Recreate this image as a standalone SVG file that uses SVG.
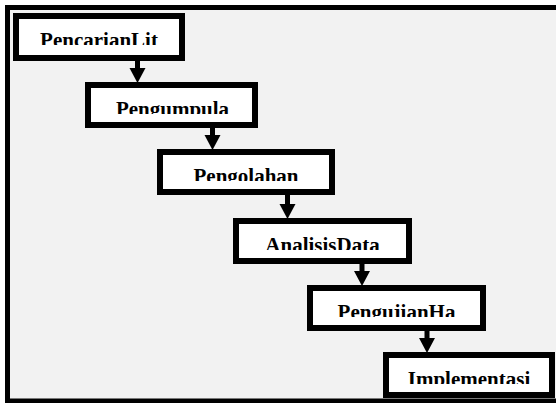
<svg xmlns="http://www.w3.org/2000/svg" width="556" height="403" viewBox="0 0 556 403">
<style>
.box{fill:#ffffff;stroke:#000000;stroke-width:6}
.lbl{font-family:"Liberation Serif","Times New Roman",serif;font-weight:bold;font-size:21px;fill:#000000;text-anchor:middle}
.shaft{stroke:#000000;stroke-width:5;fill:none}
.head{fill:#000000}
</style>
<defs>
<clipPath id="tc"><rect x="-50" y="0" width="400" height="32"/></clipPath>
</defs>
<rect x="0" y="0" width="556" height="403" fill="#ffffff"/>
<rect x="7.5" y="7.5" width="560" height="393.5" fill="#f2f2f2" stroke="#000000" stroke-width="5"/>
<g id="connectors">
<line class="shaft" x1="137.5" y1="60" x2="137.5" y2="69"/>
<polygon class="head" points="129.5,68 145.5,68 137.5,83"/>
<line class="shaft" x1="212.5" y1="127" x2="212.5" y2="136"/>
<polygon class="head" points="204.5,135 220.5,135 212.5,150"/>
<line class="shaft" x1="287.5" y1="194" x2="287.5" y2="205"/>
<polygon class="head" points="279.5,204 295.5,204 287.5,219"/>
<line class="shaft" x1="362" y1="263" x2="362" y2="272"/>
<polygon class="head" points="354,271 370,271 362,286"/>
<line class="shaft" x1="427" y1="330" x2="427" y2="339"/>
<polygon class="head" points="419,338 435,338 427,353"/>
</g>
<g id="n1" transform="translate(13,13)">
<rect class="box" x="3" y="3" width="166" height="42"/>
<text class="lbl" x="86" y="34" clip-path="url(#tc)">PencarianLit</text>
</g>
<g id="n2" transform="translate(85,82)">
<rect class="box" x="3" y="3" width="167" height="40"/>
<text class="lbl" x="87.5" y="34" clip-path="url(#tc)">Pengumpula</text>
</g>
<g id="n3" transform="translate(157,149)">
<rect class="box" x="3" y="3" width="172" height="40"/>
<text class="lbl" x="89" y="34" clip-path="url(#tc)">Pengolahan</text>
</g>
<g id="n4" transform="translate(233,218)">
<rect class="box" x="3" y="3" width="173" height="40"/>
<text class="lbl" x="89.5" y="34" clip-path="url(#tc)">AnalisisData</text>
</g>
<g id="n5" transform="translate(307,285)">
<rect class="box" x="3" y="3" width="173" height="40"/>
<text class="lbl" x="89.5" y="34" clip-path="url(#tc)">PengujianHa</text>
</g>
<g id="n6" transform="translate(383,352)">
<rect class="box" x="3" y="3" width="166" height="40"/>
<text class="lbl" x="86" y="34" clip-path="url(#tc)">Implementasi</text>
</g>
</svg>
